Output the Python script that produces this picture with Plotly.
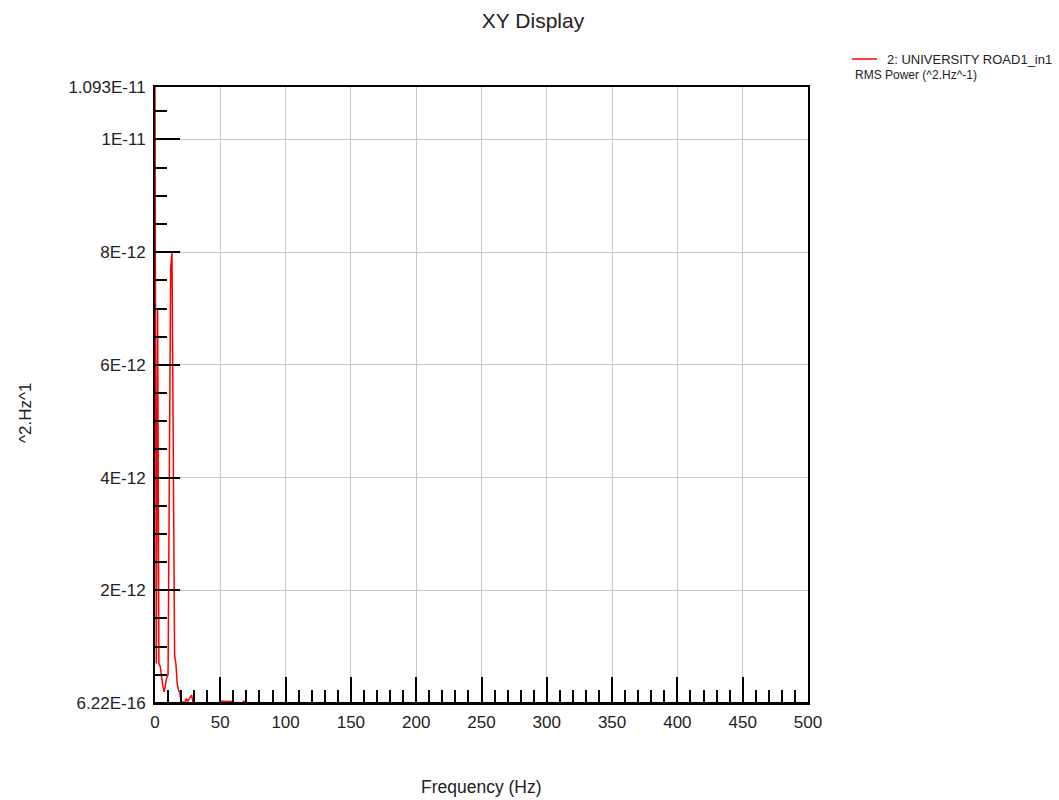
import plotly.graph_objects as go

# ---- data ----
freq_hz = [0, 1, 2, 3, 4, 5, 6, 7, 8, 9,
           10, 11, 12, 13, 14, 15, 16, 17, 18, 19,
           20, 21, 22, 23, 24, 25, 26, 27, 28, 29,
           30, 31, 32, 33, 34, 35, 36, 37, 38, 39,
           40, 41, 42, 43, 44, 45, 46, 47, 48, 49,
           50, 51, 52, 53, 54, 55, 56, 57, 58, 59,
           60, 61, 62, 63, 64, 65, 66, 67, 68, 69,
           70, 71, 72, 73, 74, 75, 76, 77, 78, 79, 80, 500]

rms_power = [10.93e-12, 0.70e-12, 7.00e-12, 0.70e-12, 0.65e-12, 0.45e-12, 0.30e-12, 0.20e-12, 0.35e-12, 0.45e-12,
             0.50e-12, 5.05e-12, 7.70e-12, 8.00e-12, 4.60e-12, 0.85e-12, 0.70e-12, 0.35e-12, 0.23e-12, 0.18e-12,
             0.03e-12, 0.02e-12, 0.01e-12, 0.02e-12, 0.08e-12, 0.03e-12, 0.06e-12, 0.10e-12, 0.14e-12, 0.03e-12,
             0.0005e-12, 0.0004e-12, 0.0006e-12, 0.0004e-12, 0.0003e-12, 0.0005e-12, 0.0004e-12, 0.0003e-12, 0.0004e-12, 0.0003e-12,
             0.0004e-12, 0.0003e-12, 0.0004e-12, 0.0003e-12, 0.0002e-12, 0.0003e-12, 0.0004e-12, 0.0003e-12, 0.0003e-12, 0.0004e-12,
             0.030e-12, 0.028e-12, 0.030e-12, 0.029e-12, 0.030e-12, 0.028e-12, 0.030e-12, 0.027e-12, 0.030e-12, 0.025e-12,
             0.0004e-12, 0.0003e-12, 0.0003e-12, 0.0002e-12, 0.0003e-12, 0.0002e-12, 0.0003e-12, 0.0004e-12, 0.030e-12, 0.0003e-12,
             0.0002e-12, 0.0002e-12, 0.0001e-12, 0.0002e-12, 0.0001e-12, 0.0002e-12, 0.0001e-12, 0.0001e-12, 0.0002e-12, 0.0001e-12,
             0.0001e-12, 6.22e-16]

y_tick_vals = [6.22e-16, 2e-12, 4e-12, 6e-12, 8e-12, 1e-11, 1.093e-11]
y_tick_text = ["6.22E-16", "2E-12", "4E-12", "6E-12", "8E-12", "1E-11", "1.093E-11"]
x_tick_vals = [0, 50, 100, 150, 200, 250, 300, 350, 400, 450, 500]

series_name = "2: UNIVERSITY ROAD1_in1"
series_sub = "RMS Power (^2.Hz^-1)"

FONT = "Liberation Sans, Arial, sans-serif"
TXT = "#222222"

fig = go.Figure()
fig.add_trace(go.Scatter(x=freq_hz, y=rms_power, mode="lines",
                         line=dict(color="#ff0000", width=1.5),
                         name=series_name, showlegend=False))

fig.update_layout(
    width=1059, height=800,
    margin=dict(l=155, r=251, t=87, b=97),
    paper_bgcolor="white", plot_bgcolor="white",
    font=dict(family=FONT, color=TXT, size=17),
    title=dict(text="XY Display", x=533 / 1059, xref="container", xanchor="center",
               y=1 - 21 / 800, yref="container", yanchor="middle",
               font=dict(size=21, color=TXT, family=FONT)),
)

fig.update_xaxes(
    range=[0, 500], tickmode="array", tickvals=x_tick_vals,
    ticks="inside", ticklen=26, tickcolor="black", tickwidth=1.5,
    showgrid=True, gridcolor="#c8c8c8", gridwidth=1,
    showline=True, linecolor="black", linewidth=2, mirror=True,
    zeroline=False, tickfont=dict(size=17, color=TXT),
    ticklabelstandoff=3,
    minor=dict(dtick=10, tick0=0, ticks="inside", ticklen=13,
               tickcolor="black", tickwidth=1.5, showgrid=False),
    title=None,
)
fig.update_yaxes(
    range=[6.22e-16, 1.093e-11], tickmode="array", tickvals=y_tick_vals,
    ticktext=y_tick_text,
    ticks="inside", ticklen=25, tickcolor="black", tickwidth=1.5,
    showgrid=True, gridcolor="#c8c8c8", gridwidth=1,
    showline=True, linecolor="black", linewidth=2, mirror=True,
    zeroline=False, tickfont=dict(size=17, color=TXT),
    ticklabelstandoff=4,
    minor=dict(dtick=0.5e-12, tick0=0, ticks="inside", ticklen=12,
               tickcolor="black", tickwidth=1.5, showgrid=False),
    title=None,
)

# baseline frame edge drawn above the trace (hides the near-zero line like the original)
fig.add_shape(type="line", xref="paper", yref="paper", x0=0, x1=1, y0=0, y1=0,
              line=dict(color="black", width=2), layer="above")

# axis titles
fig.add_annotation(text="Frequency (Hz)", xref="paper", yref="paper",
                   x=(481 - 155) / 653, y=-(787 - 703) / 616, xanchor="center", yanchor="middle",
                   showarrow=False, font=dict(size=17.5, color=TXT))
fig.add_annotation(text="^2.Hz^1", xref="paper", yref="paper",
                   x=(25 - 155) / 653, y=(703 - 413) / 616, xanchor="center", yanchor="middle",
                   textangle=-90, showarrow=False, font=dict(size=17, color=TXT))

# legend (drawn manually to match layout)
fig.add_shape(type="line", xref="paper", yref="paper",
              x0=(852 - 155) / 653, x1=(877 - 155) / 653,
              y0=(703 - 59) / 616, y1=(703 - 59) / 616,
              line=dict(color="#ff0000", width=1.5))
fig.add_annotation(text=series_name, xref="paper", yref="paper",
                   x=(885 - 155) / 653, y=(703 - 59) / 616, xanchor="left", yanchor="middle",
                   showarrow=False, font=dict(size=13, color=TXT))
fig.add_annotation(text=series_sub, xref="paper", yref="paper",
                   x=(853 - 155) / 653, y=(703 - 75) / 616, xanchor="left", yanchor="middle",
                   showarrow=False, font=dict(size=12, color=TXT))

fig.write_html("out.html")
